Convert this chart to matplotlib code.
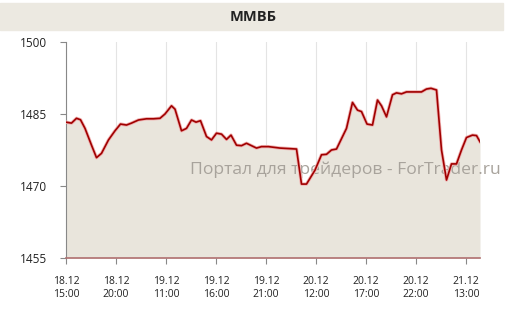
import matplotlib.pyplot as plt
from matplotlib.patches import Rectangle

plt.rcParams['font.family'] = ['Open Sans', 'DejaVu Sans']

# half-hour slots from 18.12 15:00, index values
slots = [0, 1.1, 2.1, 2.9, 3.8, 5.1, 6.1, 7.1, 8.5, 9.8, 10.9, 12.1, 13.1, 14.5,
         16.1, 17.5, 18.8, 19.8, 21.1, 21.8, 23.1, 24.1, 25.1, 26, 26.9, 28.1,
         29.1, 30.1, 31.1, 32.1, 33, 34.1, 35.1, 36.1, 37.1, 38.1, 39.1, 40.5,
         42.8, 46.1, 47.1, 48.1, 49.8, 51.1, 52.1, 53.1, 54.1, 56.1, 57.3, 58.3,
         59.1, 60.2, 61.3, 62.3, 63.1, 64.1, 65.3, 66.1, 67.1, 68.1, 69.5, 71.1,
         72.1, 73, 74.1, 75.1, 76.1, 77.1, 78.1, 79.1, 80.1, 81.3, 82.1, 82.8]
micex = [1483.3, 1483.1, 1484.1, 1483.8, 1482.0, 1478.5, 1475.9, 1476.8, 1479.6,
         1481.5, 1482.9, 1482.7, 1483.1, 1483.75, 1484.0, 1484.0, 1484.1, 1485.0,
         1486.7, 1486.0, 1481.5, 1482.0, 1483.75, 1483.3, 1483.6, 1480.3, 1479.6,
         1481.0, 1480.8, 1479.7, 1480.6, 1478.5, 1478.4, 1478.9, 1478.4, 1477.9,
         1478.2, 1478.2, 1477.9, 1477.7, 1470.4, 1470.4, 1473.3, 1476.5, 1476.6,
         1477.5, 1477.7, 1482.0, 1487.4, 1485.8, 1485.5, 1482.9, 1482.7, 1487.9,
         1486.7, 1484.4, 1489.0, 1489.4, 1489.2, 1489.6, 1489.6, 1489.6, 1490.2,
         1490.35, 1490.0, 1477.5, 1471.25, 1474.6, 1474.6, 1477.5, 1480.1, 1480.6,
         1480.5, 1479.2]

tick_pos = [0, 10, 20, 30, 40, 50, 60, 70, 80]
tick_labels = ['18.12\n15:00', '18.12\n20:00', '19.12\n11:00', '19.12\n16:00',
               '19.12\n21:00', '20.12\n12:00', '20.12\n17:00', '20.12\n22:00',
               '21.12\n13:00']
y_ticks = [1455, 1470, 1485, 1500]

fig = plt.figure(figsize=(5.06, 3.2), dpi=100)

# title band
fig.patches.append(Rectangle((0, 1 - 30 / 320), 503 / 506, 27 / 320,
                             transform=fig.transFigure, color='#ECE9E1', zorder=0))
fig.text(0.5, 1 - 17 / 320, 'ММВБ', ha='center', va='center',
         fontsize=10.5, fontweight='bold', color='#222222')

ax = fig.add_axes([66 / 506, 1 - 258 / 320, 414 / 506, 216 / 320])
ax.fill_between(slots, micex, 1455, color='#E9E5DC', zorder=1, lw=0)
ax.plot(slots, micex, color='#F0B0B0', lw=2.4, zorder=3, solid_joinstyle='round')
ax.plot(slots, micex, color='#A00000', lw=1.2, zorder=4, solid_joinstyle='round')

# watermark, under the line
ax.text(190 / 506, 1 - 170 / 320, 'Портал для трейдеров - ForTrader.ru',
        transform=fig.transFigure, ha='left', va='center', fontsize=12.6,
        color='#A8A39C', zorder=2, clip_on=False)

ax.set_xlim(0, 82.8)
ax.set_ylim(1455, 1500)
ax.set_xticks(tick_pos)
ax.set_xticklabels(tick_labels, fontsize=7.5, color='#222222', linespacing=1.3)
ax.set_yticks(y_ticks)
ax.set_yticklabels([str(v) for v in y_ticks], fontsize=8.5, color='#222222')
for p in tick_pos:
    ax.axvline(p, color='#E4E4E4', lw=0.8, zorder=0.5)

for s in ['top', 'right']:
    ax.spines[s].set_visible(False)
ax.spines['left'].set_color('#888888')
ax.spines['bottom'].set_color('#B07070')
ax.spines['bottom'].set_linewidth(1.2)
ax.spines['bottom'].set_zorder(5)
ax.tick_params(axis='y', length=4, color='#888888', pad=10)
ax.tick_params(axis='x', length=4, color='#888888', pad=9)

fig.savefig('out.png', dpi=100)
